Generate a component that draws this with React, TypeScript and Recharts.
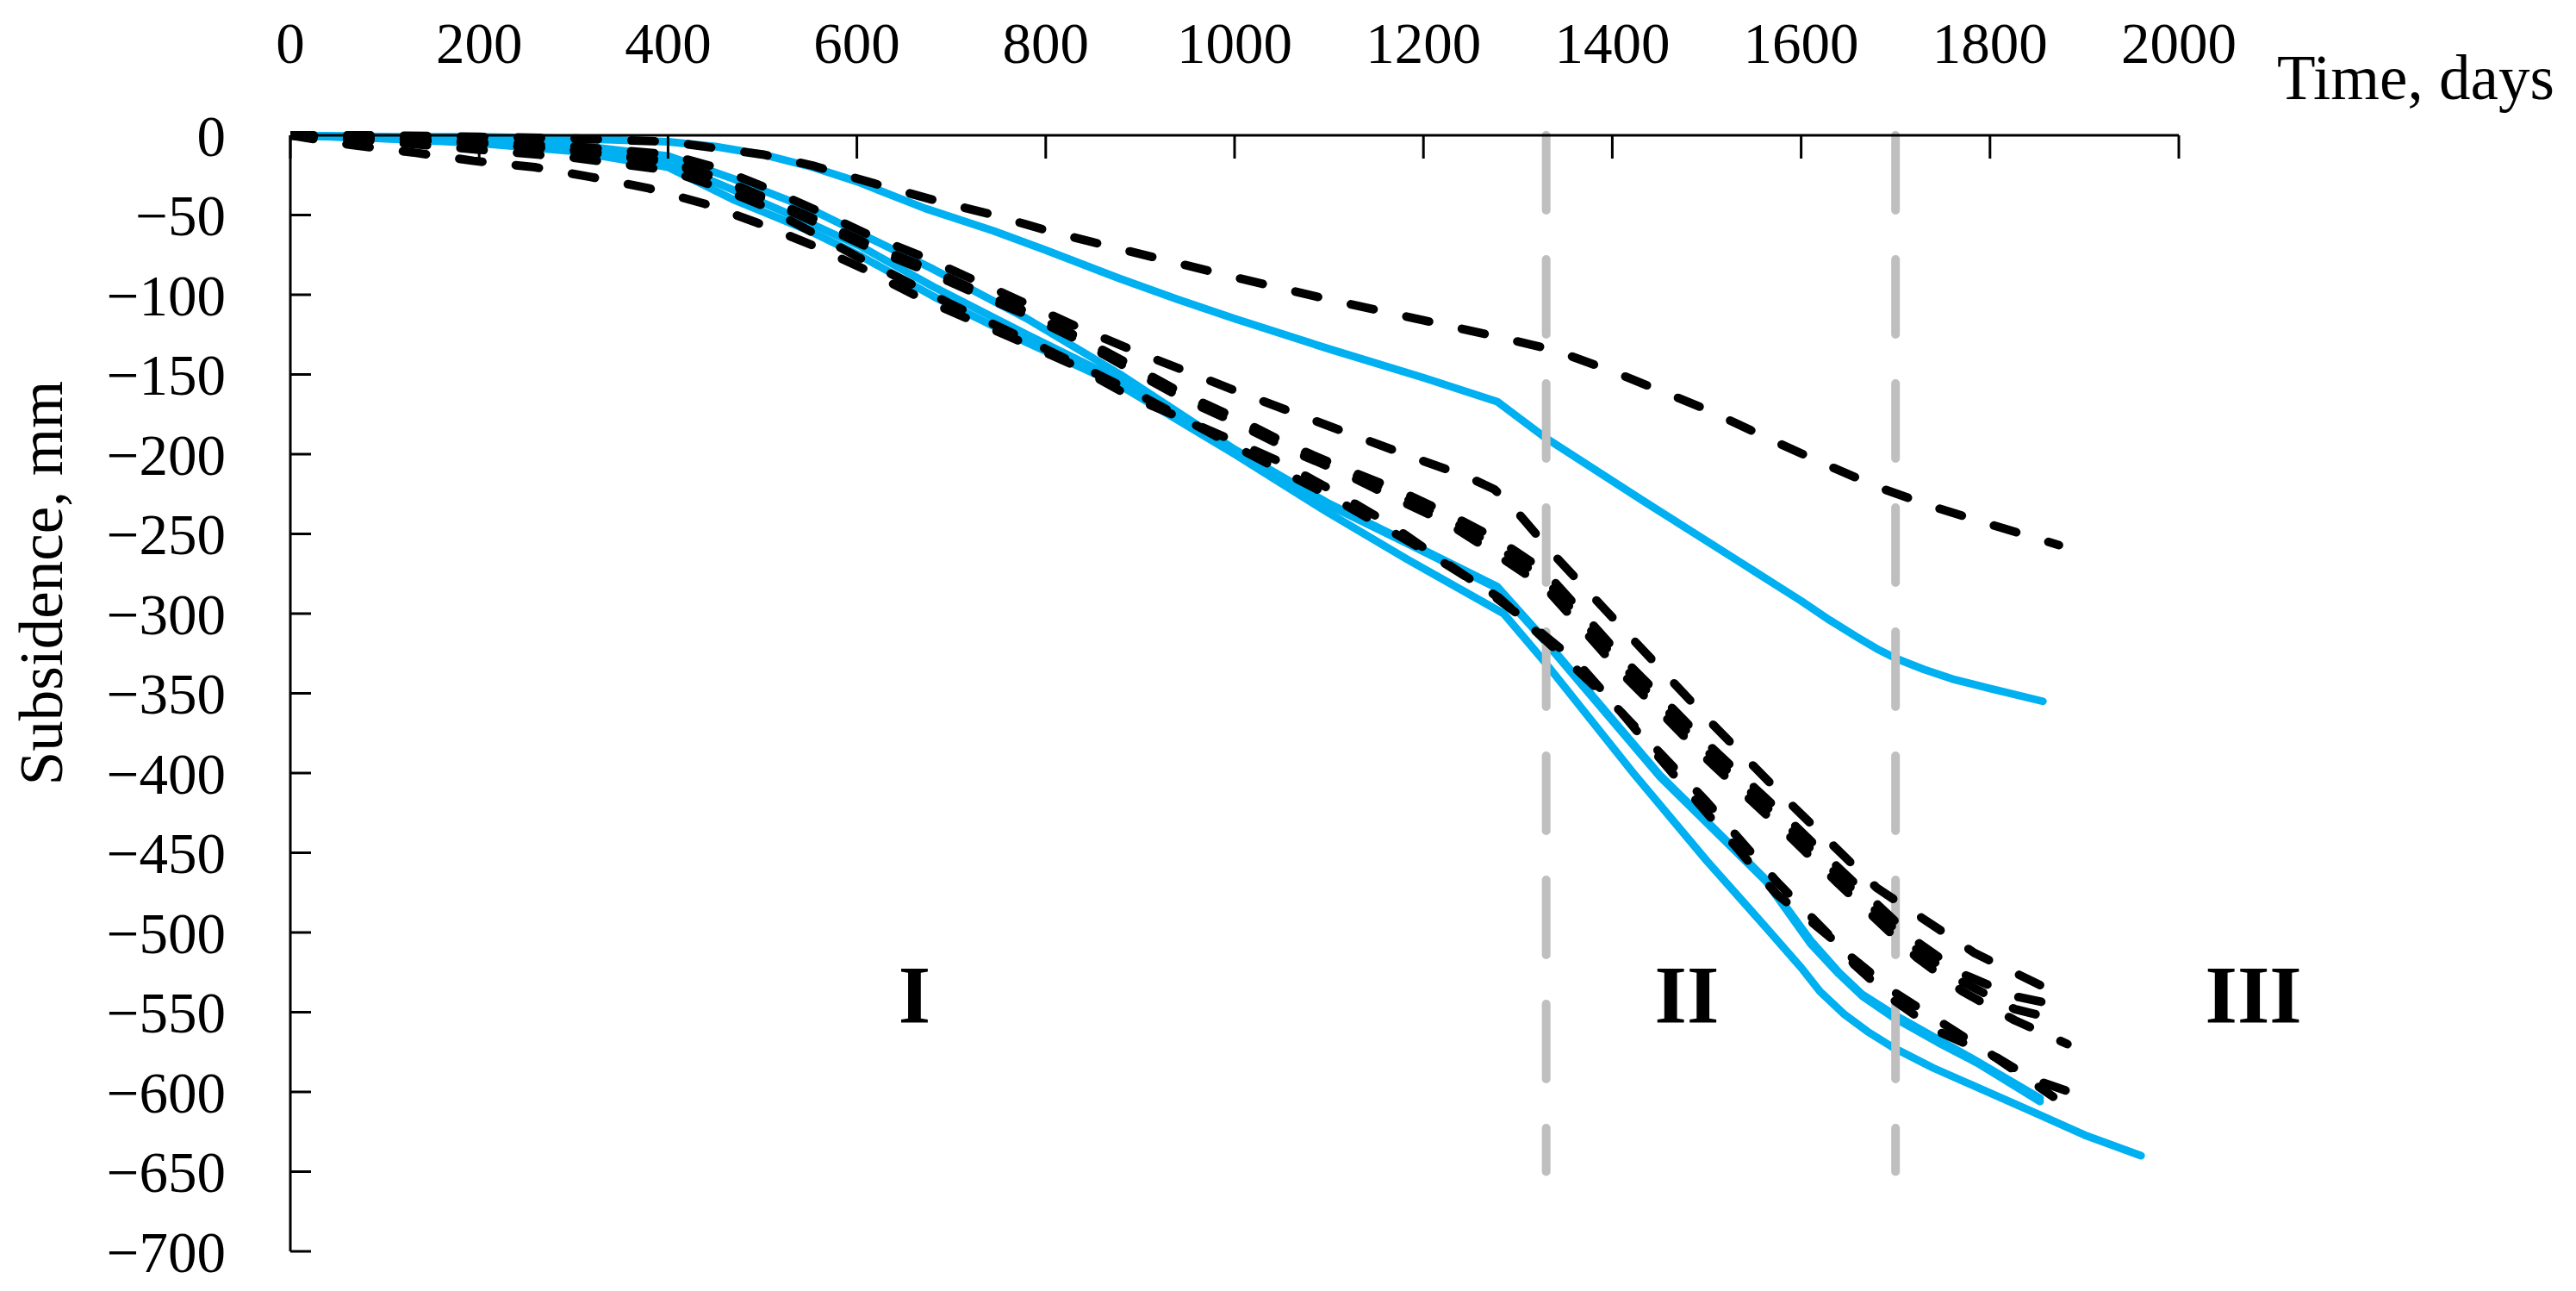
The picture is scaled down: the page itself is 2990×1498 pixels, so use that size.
import React from 'react';
import { LineChart, Line, XAxis, YAxis, ReferenceLine, ReferenceDot } from 'recharts';

type Pt = [number, number];

const xTicks = [0, 200, 400, 600, 800, 1000, 1200, 1400, 1600, 1800, 2000];
const yTicks = [0, -50, -100, -150, -200, -250, -300, -350, -400, -450, -500, -550, -600, -650, -700];

// stage boundaries (days) and stage names
const stageBounds = [1330, 1700];
const stageNames = ['I', 'II', 'III'];
const stageDays = [661, 1479, 2079];
const stageMm = -539;

// measured (blue, solid)
const blueUpper: Pt[] = [
  [0, 0], [100, -1], [200, -1], [300, -2], [400, -4], [450, -7], [500, -12], [553, -20], [600, -29],
  [673, -46], [745, -60], [800, -72], [879, -90], [940, -103], [1000, -115], [1100, -134], [1200, -152],
  [1278, -167], [1330, -190], [1432, -229], [1536, -268], [1600, -292], [1630, -304], [1660, -315],
  [1680, -322], [1700, -328], [1730, -335], [1760, -341], [1800, -347], [1856, -355],
];
const blueA: Pt[] = [
  [0, 0], [100, -1], [200, -3], [300, -6], [400, -13], [468, -27], [550, -46], [605, -62], [681, -84],
  [780, -115], [879, -150], [1000, -197], [1100, -231], [1183, -255], [1278, -283], [1328, -316],
  [1450, -401], [1563, -467], [1610, -505], [1640, -525], [1665, -539], [1697, -551], [1787, -581],
  [1853, -604],
];
const blueB: Pt[] = [
  [0, 0], [100, -2], [200, -4], [300, -8], [400, -17], [468, -34], [550, -55], [605, -70], [681, -95],
  [780, -125], [879, -154], [1000, -198], [1100, -232], [1183, -256], [1278, -284], [1328, -317],
  [1450, -402], [1563, -468], [1610, -507], [1640, -526], [1665, -540], [1697, -553], [1745, -569],
  [1787, -582], [1853, -606],
];
const blueC: Pt[] = [
  [0, 0], [100, -2], [200, -5], [300, -10], [400, -20], [468, -40], [550, -60], [605, -76], [681, -101],
  [780, -130], [879, -157], [1000, -200], [1100, -237], [1183, -266], [1285, -300], [1328, -330],
  [1425, -402], [1500, -455], [1563, -497], [1600, -522], [1620, -537], [1645, -551], [1670, -562],
  [1697, -572], [1740, -585], [1790, -598], [1851, -614], [1900, -627], [1960, -640],
];

// modelled (black, dashed)
const dashTop: Pt[] = [
  [0, 0], [100, 0], [200, -1], [300, -2], [400, -4], [450, -8], [500, -12], [553, -19], [623, -31],
  [684, -41], [745, -50], [803, -60], [863, -69], [1000, -89], [1100, -103], [1200, -116], [1283, -127],
  [1340, -135], [1400, -148], [1500, -172], [1572, -192], [1628, -207], [1683, -221], [1740, -233],
  [1800, -244], [1873, -257],
];
const dashA: Pt[] = [
  [0, 0], [100, -2], [200, -4], [300, -7], [400, -12], [450, -20], [500, -32], [557, -47], [611, -62],
  [669, -76], [725, -91], [781, -106], [840, -122], [897, -136], [1013, -163], [1130, -189], [1189, -202],
  [1246, -214], [1275, -222], [1296, -234], [1338, -263], [1420, -315], [1504, -368], [1590, -420],
  [1680, -472], [1784, -513], [1860, -535],
];
const dashB: Pt[] = [
  [0, 0], [100, -2], [200, -5], [300, -9], [400, -16], [450, -26], [498, -38], [557, -53], [611, -68],
  [669, -82], [725, -97], [781, -111], [836, -127], [893, -145], [945, -162], [1004, -178], [1061, -195],
  [1116, -209], [1171, -222], [1225, -237], [1280, -254], [1328, -273], [1369, -300], [1411, -328],
  [1453, -353], [1496, -379], [1590, -431], [1637, -458], [1723, -506], [1771, -526], [1826, -540],
  [1875, -546],
];
const dashC: Pt[] = [
  [0, 0], [100, -2], [200, -5], [300, -9], [400, -16], [450, -26], [498, -38], [557, -53], [611, -68],
  [669, -82], [725, -97], [781, -111], [836, -127], [893, -146], [945, -163], [1004, -179], [1061, -196],
  [1116, -210], [1171, -225], [1225, -240], [1280, -259], [1328, -278], [1369, -305], [1411, -333],
  [1453, -358], [1496, -384], [1590, -436], [1637, -463], [1723, -511], [1771, -531], [1826, -548],
  [1880, -556],
];
const dashD: Pt[] = [
  [0, 0], [100, -2], [200, -5], [300, -10], [400, -17], [450, -27], [498, -39], [557, -55], [611, -70],
  [669, -84], [725, -99], [781, -113], [836, -129], [893, -148], [945, -165], [1004, -181], [1061, -198],
  [1116, -212], [1171, -228], [1225, -243], [1280, -264], [1328, -283], [1369, -310], [1411, -338],
  [1453, -363], [1496, -389], [1590, -441], [1637, -468], [1723, -516], [1771, -537], [1826, -555],
  [1882, -570],
];
const dashE: Pt[] = [
  [0, 0], [64, -6], [133, -11], [194, -16], [259, -20], [317, -26], [378, -33], [439, -43], [495, -55],
  [553, -69], [608, -84], [664, -101], [721, -116], [776, -130], [833, -145], [890, -164], [950, -179],
  [1000, -192], [1049, -205], [1104, -223], [1162, -243], [1216, -265], [1261, -283], [1306, -303],
  [1362, -330], [1404, -358], [1442, -385], [1574, -476], [1608, -492], [1637, -506], [1656, -520],
  [1697, -542], [1745, -562], [1809, -579], [1845, -592], [1880, -599],
];
const dashF: Pt[] = [
  [0, 0], [100, -4], [200, -9], [300, -14], [400, -22], [450, -32], [500, -44], [600, -76], [700, -106],
  [800, -134], [900, -163], [1000, -195], [1100, -226], [1200, -260], [1280, -290], [1330, -317],
  [1400, -356], [1500, -418], [1574, -468], [1650, -514], [1700, -538], [1800, -576], [1867, -603],
];

const blueSeries = [blueUpper, blueA, blueB, blueC];
const dashSeries = [dashTop, dashA, dashB, dashC, dashD, dashE, dashF];

const toRows = (pts: Pt[]) => pts.map(([day, mm]) => ({ day, mm }));

const FONT = "'Liberation Serif', 'Times New Roman', serif";
const BLUE = '#00B0F0';
const GRAY = '#BFBFBF';

const fmtMm = (v: number) => (v < 0 ? `\u2212${Math.abs(v)}` : `${v}`);

const TimeLabel = ({ viewBox }: any) => (
  <text x={viewBox.x + viewBox.width + 114} y={viewBox.y + viewBox.height - 42} fontFamily={FONT} fontSize={73} fill="#000">
    Time, days
  </text>
);

const SubsidenceLabel = ({ viewBox }: any) => {
  const cx = viewBox.x - 89;
  const cy = viewBox.y + viewBox.height / 2 - 128;
  return (
    <text x={cx} y={cy} transform={`rotate(-90, ${cx}, ${cy})`} textAnchor="middle" dominantBaseline="central" fontFamily={FONT} fontSize={71} fill="#000">
      Subsidence, mm
    </text>
  );
};

export default function App() {
  return (
    <div style={{ position: 'absolute', left: 0, top: 0, width: 2990, height: 1498, background: '#fff' }}>
      <LineChart width={2990} height={1498} margin={{ top: 57, right: 461, bottom: 46, left: 137 }}>
        <XAxis
          xAxisId={0}
          type="number"
          dataKey="day"
          orientation="top"
          domain={[0, 2000]}
          ticks={xTicks}
          height={100}
          allowDataOverflow
          stroke="#000"
          strokeWidth={3}
          tickSize={-27}
          tickMargin={111}
          tick={{ fontFamily: FONT, fontSize: 67, fill: '#000' }}
          label={TimeLabel}
        />
        <YAxis
          yAxisId={0}
          type="number"
          domain={[-700, 0]}
          ticks={yTicks}
          width={200}
          stroke="#000"
          strokeWidth={3}
          tickSize={-24}
          tickMargin={99}
          tickFormatter={fmtMm}
          tick={{ fontFamily: FONT, fontSize: 67, fill: '#000' }}
          label={SubsidenceLabel}
        />
        {blueSeries.map((pts, i) => (
          <Line
            key={`b${i}`}
            data={toRows(pts)}
            dataKey="mm"
            type="linear"
            stroke={BLUE}
            strokeWidth={9}
            strokeLinecap="round"
            strokeLinejoin="round"
            dot={false}
            activeDot={false}
            isAnimationActive={false}
          />
        ))}
        {stageBounds.map((d) => (
          <ReferenceLine
            key={`s${d}`}
            segment={[{ x: d, y: 0 }, { x: d, y: -650 }]}
            stroke={GRAY}
            strokeWidth={10}
            strokeDasharray="87 57"
            strokeLinecap="round"
          />
        ))}
        {dashSeries.map((pts, i) => (
          <Line
            key={`d${i}`}
            data={toRows(pts)}
            dataKey="mm"
            type="linear"
            stroke="#000"
            strokeWidth={10}
            strokeDasharray="27 39"
            strokeLinecap="round"
            strokeLinejoin="round"
            dot={false}
            activeDot={false}
            isAnimationActive={false}
          />
        ))}
        {stageNames.map((name, i) => (
          <ReferenceDot
            key={name}
            x={stageDays[i]}
            y={stageMm}
            r={0}
            ifOverflow="visible"
            shape={(p: any) => (
              <text x={p.cx} y={p.cy} textAnchor="middle" dominantBaseline="central" fontFamily={FONT} fontWeight="bold" fontSize={96} fill="#000">
                {name}
              </text>
            )}
          />
        ))}
      </LineChart>
    </div>
  );
}
